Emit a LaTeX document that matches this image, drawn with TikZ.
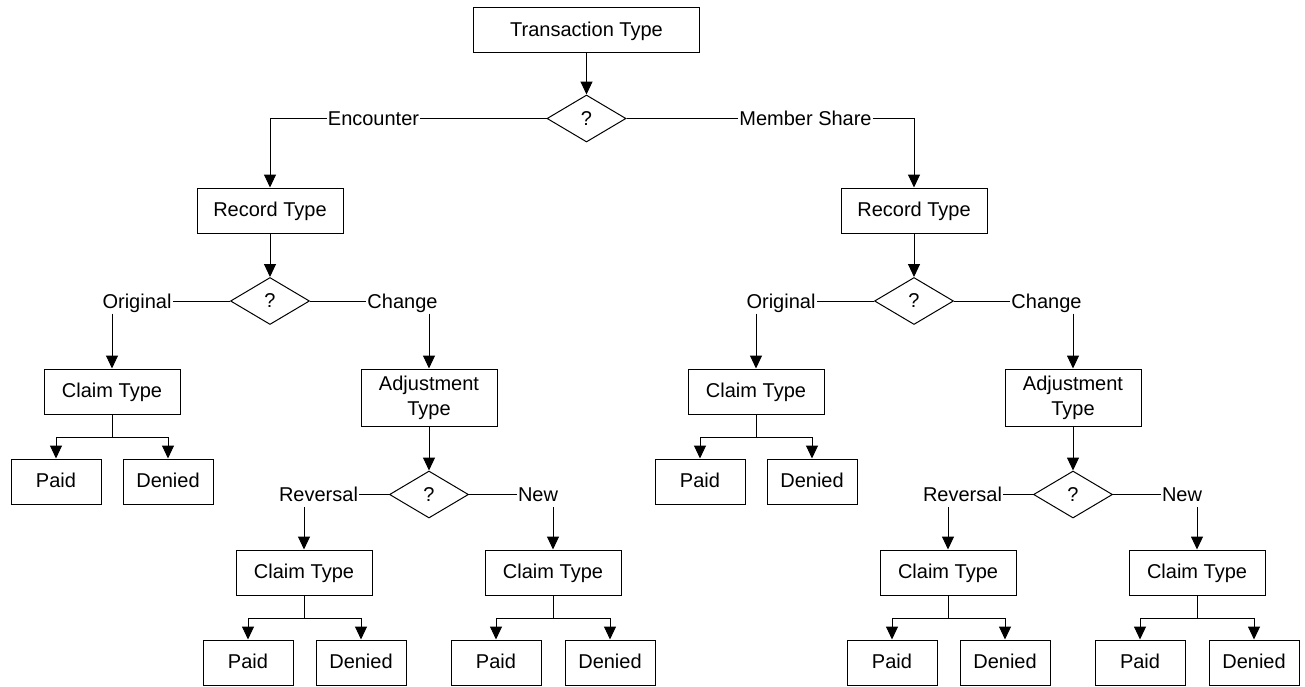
\documentclass[tikz,border=0pt]{standalone}
\usepackage{fontspec}
\setmainfont{Liberation Sans}
\usetikzlibrary{arrows.meta, shapes.geometric}

\begin{document}
\begin{tikzpicture}[x = 1pt, y = -1pt]

\tikzset{
every node/.style = {font = \fontsize{20}{23}\selectfont},
entity/.style = {rectangle, draw, line width = 1pt, minimum width = 136pt, minimum height = 45pt, inner sep = 0pt, text height = 14pt, text depth = 2pt},
root/.style = {entity, minimum width = 226pt},
record/.style = {entity, minimum width = 146pt},
adjust/.style = {rectangle, draw, line width = 1pt, minimum width = 136pt, minimum height = 57pt, inner sep = 0pt, align = center, font = \fontsize{20}{25}\selectfont},
outcome/.style = {entity, minimum width = 90pt},
decision/.style = {diamond, draw, line width = 1pt, minimum width = 79pt, minimum height = 47pt, inner sep = 0pt},
choice/.style = {inner xsep = 1pt, inner ysep = 5.5pt, text height = 14pt, text depth = 0pt},
flow/.style = {-{Triangle[length = 13pt, width = 12pt]}, line width = 1pt},
plainline/.style = {line width = 1pt},
	}

\useasboundingbox (0, 0) rectangle (1305, 686);

% Top
\node at (586.5, 30) [root] (trans) {Transaction Type};
\node at (586.5, 118.5) [decision] (qTrans) {?};
\node at (373.5, 118.5) [choice] (enc) {Encounter};
\node at (805.5, 118.5) [choice] (mem) {Member Share};

% Encounter
\node at (270, 210.5) [record] (recE) {Record Type};
\node at (270, 301) [decision] (qRecE) {?};
\node at (137, 301) [choice] (origE) {Original};
\node at (402.5, 301) [choice] (chgE) {Change};
\node at (112, 391.5) [entity] (clmE) {Claim Type};
\node at (56, 481.5) [outcome] (paidE) {Paid};
\node at (168, 481.5) [outcome] (denE) {Denied};
\node at (429, 397.5) [adjust] (adjE) {Adjustment\\Type};
\node at (429, 494.5) [decision] (qAdjE) {?};
\node at (318.5, 494.5) [choice] (revE) {Reversal};
\node at (538, 494.5) [choice] (newE) {New};
\node at (304, 572.5) [entity] (clmRevE) {Claim Type};
\node at (248, 662.5) [outcome] (paidRevE) {Paid};
\node at (361, 662.5) [outcome] (denRevE) {Denied};
\node at (553, 572.5) [entity] (clmNewE) {Claim Type};
\node at (496, 662.5) [outcome] (paidNewE) {Paid};
\node at (610, 662.5) [outcome] (denNewE) {Denied};

% Member Share
\node at (914, 210.5) [record] (recM) {Record Type};
\node at (914, 301) [decision] (qRecM) {?};
\node at (781, 301) [choice] (origM) {Original};
\node at (1046.5, 301) [choice] (chgM) {Change};
\node at (756, 391.5) [entity] (clmM) {Claim Type};
\node at (700, 481.5) [outcome] (paidM) {Paid};
\node at (812, 481.5) [outcome] (denM) {Denied};
\node at (1073, 397.5) [adjust] (adjM) {Adjustment\\Type};
\node at (1073, 494.5) [decision] (qAdjM) {?};
\node at (962.5, 494.5) [choice] (revM) {Reversal};
\node at (1182, 494.5) [choice] (newM) {New};
\node at (948, 572.5) [entity] (clmRevM) {Claim Type};
\node at (892, 662.5) [outcome] (paidRevM) {Paid};
\node at (1005, 662.5) [outcome] (denRevM) {Denied};
\node at (1197, 572.5) [entity] (clmNewM) {Claim Type};
\node at (1140, 662.5) [outcome] (paidNewM) {Paid};
\node at (1254, 662.5) [outcome] (denNewM) {Denied};

% Connectors, top
\draw [flow] (trans) -- (qTrans);
\draw [plainline] (qTrans) -- (enc);
\draw [plainline] (qTrans) -- (mem);
\draw [flow] (enc) -| (recE);
\draw [flow] (mem) -| (recM);

% Connectors, Encounter
\draw [flow] (recE) -- (qRecE);
\draw [plainline] (qRecE) -- (origE);
\draw [plainline] (qRecE) -- (chgE);
\draw [flow] (origE.south -| clmE) -- (clmE);
\draw [flow] (chgE.south -| adjE) -- (adjE);
\draw [flow] (clmE.south) -- ++(0, 22.5) -| (paidE);
\draw [flow] (clmE.south) -- ++(0, 22.5) -| (denE);
\draw [flow] (adjE) -- (qAdjE);
\draw [plainline] (qAdjE) -- (revE);
\draw [plainline] (qAdjE) -- (newE);
\draw [flow] (revE.south -| clmRevE) -- (clmRevE);
\draw [flow] (newE.south -| clmNewE) -- (clmNewE);
\draw [flow] (clmRevE.south) -- ++(0, 22.5) -| (paidRevE);
\draw [flow] (clmRevE.south) -- ++(0, 22.5) -| (denRevE);
\draw [flow] (clmNewE.south) -- ++(0, 22.5) -| (paidNewE);
\draw [flow] (clmNewE.south) -- ++(0, 22.5) -| (denNewE);

% Connectors, Member Share
\draw [flow] (recM) -- (qRecM);
\draw [plainline] (qRecM) -- (origM);
\draw [plainline] (qRecM) -- (chgM);
\draw [flow] (origM.south -| clmM) -- (clmM);
\draw [flow] (chgM.south -| adjM) -- (adjM);
\draw [flow] (clmM.south) -- ++(0, 22.5) -| (paidM);
\draw [flow] (clmM.south) -- ++(0, 22.5) -| (denM);
\draw [flow] (adjM) -- (qAdjM);
\draw [plainline] (qAdjM) -- (revM);
\draw [plainline] (qAdjM) -- (newM);
\draw [flow] (revM.south -| clmRevM) -- (clmRevM);
\draw [flow] (newM.south -| clmNewM) -- (clmNewM);
\draw [flow] (clmRevM.south) -- ++(0, 22.5) -| (paidRevM);
\draw [flow] (clmRevM.south) -- ++(0, 22.5) -| (denRevM);
\draw [flow] (clmNewM.south) -- ++(0, 22.5) -| (paidNewM);
\draw [flow] (clmNewM.south) -- ++(0, 22.5) -| (denNewM);

\end{tikzpicture}
\end{document}
